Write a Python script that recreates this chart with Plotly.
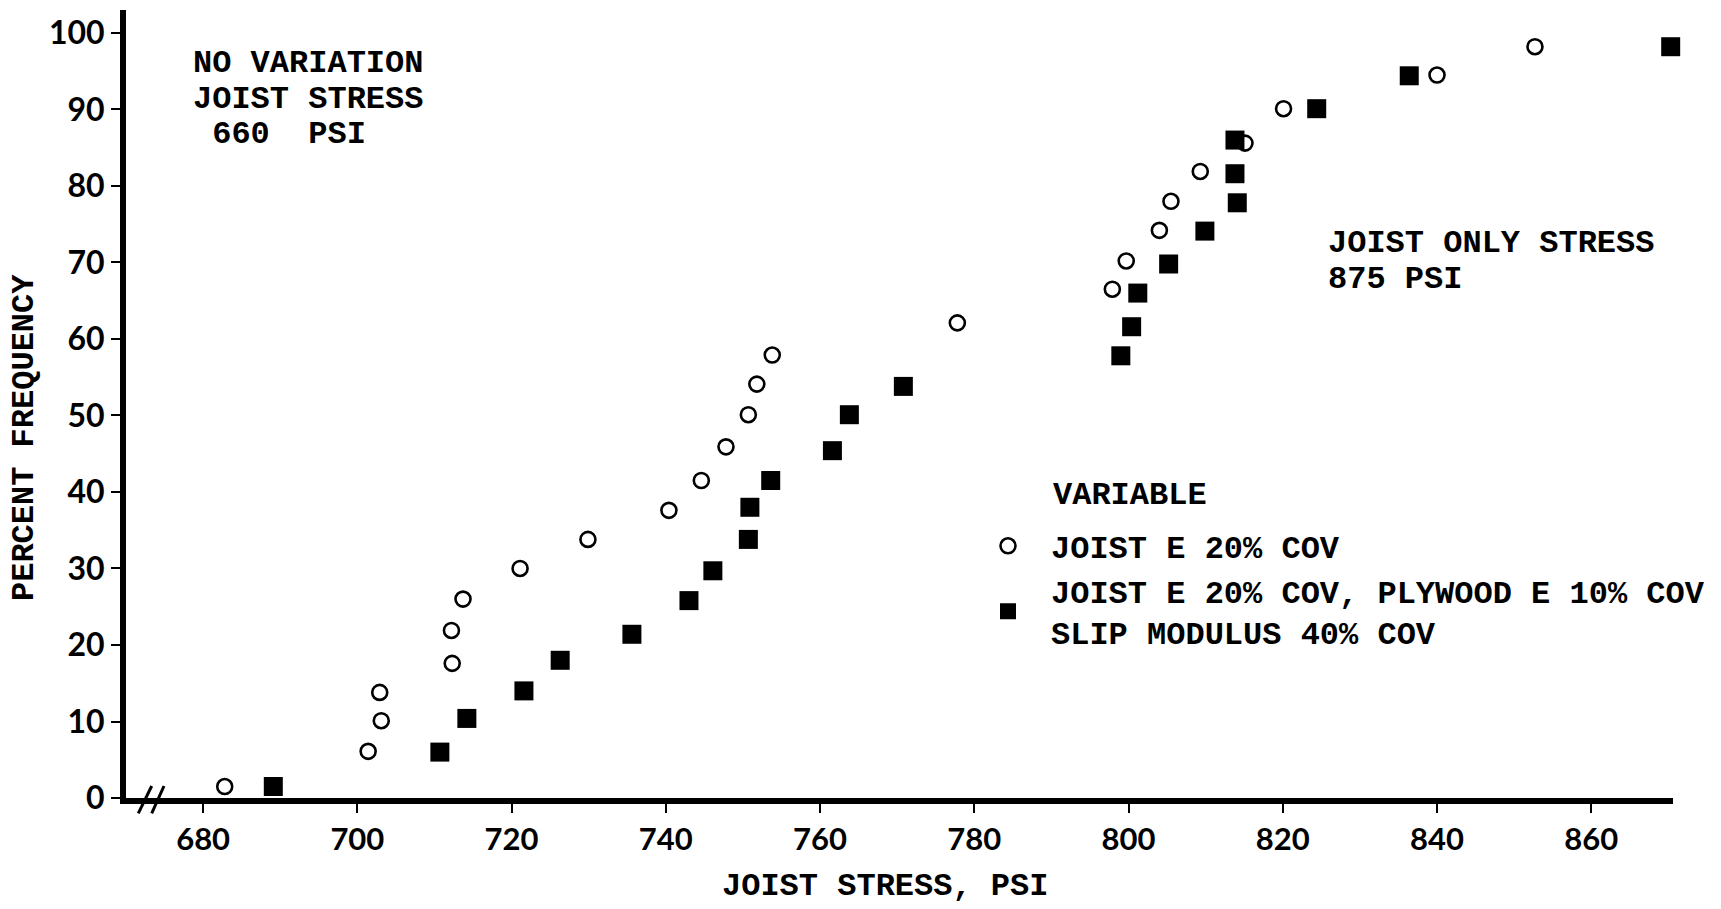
import plotly.graph_objects as go

# ---- data ----
circle_x = [682.8, 701.4, 703.1, 702.9, 712.3, 712.2, 713.7, 721.1, 729.9, 740.4,
            744.6, 747.8, 750.7, 751.8, 753.8, 777.8, 797.9, 799.7, 804.0, 805.5,
            809.3, 815.1, 820.1, 840.0, 852.7]
circle_y = [1.5, 6.1, 10.1, 13.8, 17.6, 21.9, 26.0, 30.0, 33.8, 37.6,
            41.5, 45.9, 50.1, 54.1, 57.9, 62.1, 66.5, 70.2, 74.2, 78.0,
            81.9, 85.6, 90.1, 94.5, 98.2]
square_x = [689.1, 710.7, 714.2, 721.6, 726.3, 735.6, 743.0, 746.1, 750.7, 750.9,
            753.6, 761.6, 763.8, 770.8, 799.0, 800.4, 801.2, 805.2, 809.9, 814.1,
            813.8, 813.8, 824.4, 836.4, 870.3]
square_y = [1.5, 6.0, 10.4, 14.0, 18.0, 21.4, 25.8, 29.7, 33.8, 38.0,
            41.5, 45.4, 50.1, 53.8, 57.8, 61.6, 66.0, 69.8, 74.1, 77.8,
            81.6, 86.0, 90.1, 94.4, 98.2]

x_ticks = [680, 700, 720, 740, 760, 780, 800, 820, 840, 860]
y_ticks = [0, 10, 20, 30, 40, 50, 60, 70, 80, 90, 100]

name_circle = "JOIST E 20% COV"
name_square = "JOIST E 20% COV, PLYWOOD E 10% COV<br>SLIP MODULUS 40% COV"
x_title = "JOIST STRESS, PSI"
y_title = "PERCENT FREQUENCY"

# ---- layout geometry ----
W, H = 1721, 909
L, R, T, B = 126, 48, 10, 111
PW, PH = W - L - R, H - T - B


def pxx(p):
    return (p - L) / PW


def pxy(p):
    return (H - B - p) / PH


TYPE = "Liberation Mono"
SANS = "Lato"

fig = go.Figure()
fig.add_trace(go.Scatter(
    x=circle_x, y=circle_y, mode="markers", name=name_circle,
    marker=dict(symbol="circle-open", size=15, color="black",
                line=dict(width=2.6, color="black")),
    cliponaxis=False,
))
fig.add_trace(go.Scatter(
    x=square_x, y=square_y, mode="markers", name=name_square,
    marker=dict(symbol="square", size=19, color="black",
                line=dict(width=0)),
    cliponaxis=False,
))

axis_common = dict(
    showline=True, linewidth=6, linecolor="black",
    ticks="outside", ticklen=9, tickwidth=2, tickcolor="black",
    showgrid=False, zeroline=False, automargin=False,
)

fig.update_layout(
    width=W, height=H,
    margin=dict(l=L, r=R, t=T, b=B, autoexpand=False),
    paper_bgcolor="white", plot_bgcolor="white",
    xaxis=dict(range=[670, 870.6], tickmode="array", tickvals=x_ticks,
               ticktext=[str(v) for v in x_ticks],
               tickfont=dict(family=SANS, size=31, color="black", weight="bold"),
               **axis_common),
    yaxis=dict(range=[0, 103], tickmode="array", tickvals=y_ticks,
               ticktext=[str(v) for v in y_ticks],
               tickfont=dict(family=SANS, size=32, color="black", weight="bold"),
               **axis_common),
    showlegend=True,
    legend=dict(
        x=pxx(965), y=pxy(518.5), xanchor="left", yanchor="top",
        xref="paper", yref="paper",
        itemwidth=76, bgcolor="rgba(0,0,0,0)", borderwidth=0,
        font=dict(family=TYPE, size=32, color="black", weight="bold"),
        tracegroupgap=0,
    ),
)

ann_font = dict(family=TYPE, size=32, color="black", weight="bold")
texts = [
    ("NO VARIATION", 191.7, 63.0),
    ("JOIST STRESS", 191.7, 99.0),
    (" 660  PSI", 191.7, 135.0),
    ("JOIST ONLY STRESS", 1326.7, 243.0),
    ("875 PSI", 1326.7, 279.0),
    ("VARIABLE", 1051.5, 495.0),
]
for t, x0, y0 in texts:
    fig.add_annotation(text=t, x=pxx(x0), y=pxy(y0), xref="paper", yref="paper",
                       xanchor="left", yanchor="middle", showarrow=False,
                       borderpad=0, font=ann_font, align="left")

# axis titles (placed as in the reference)
fig.add_annotation(text=x_title, x=pxx(884.5), y=pxy(887), xref="paper", yref="paper",
                   xanchor="center", yanchor="middle", showarrow=False,
                   borderpad=0, font=ann_font)
fig.add_annotation(text=y_title, x=pxx(25), y=pxy(438), xref="paper", yref="paper",
                   xanchor="center", yanchor="middle", showarrow=False, textangle=-90,
                   borderpad=0, font=ann_font)

# axis break mark "//" on the x axis
for (xa, ya, xb, yb) in [(138.3, 813.3, 151.7, 786.0), (151.7, 813.3, 164.0, 786.0)]:
    fig.add_shape(type="line", xref="x domain", yref="y domain",
                  x0=(xa - L) / PW, y0=(H - B - ya) / PH,
                  x1=(xb - L) / PW, y1=(H - B - yb) / PH,
                  line=dict(color="black", width=3))

fig.write_html("out.html")
